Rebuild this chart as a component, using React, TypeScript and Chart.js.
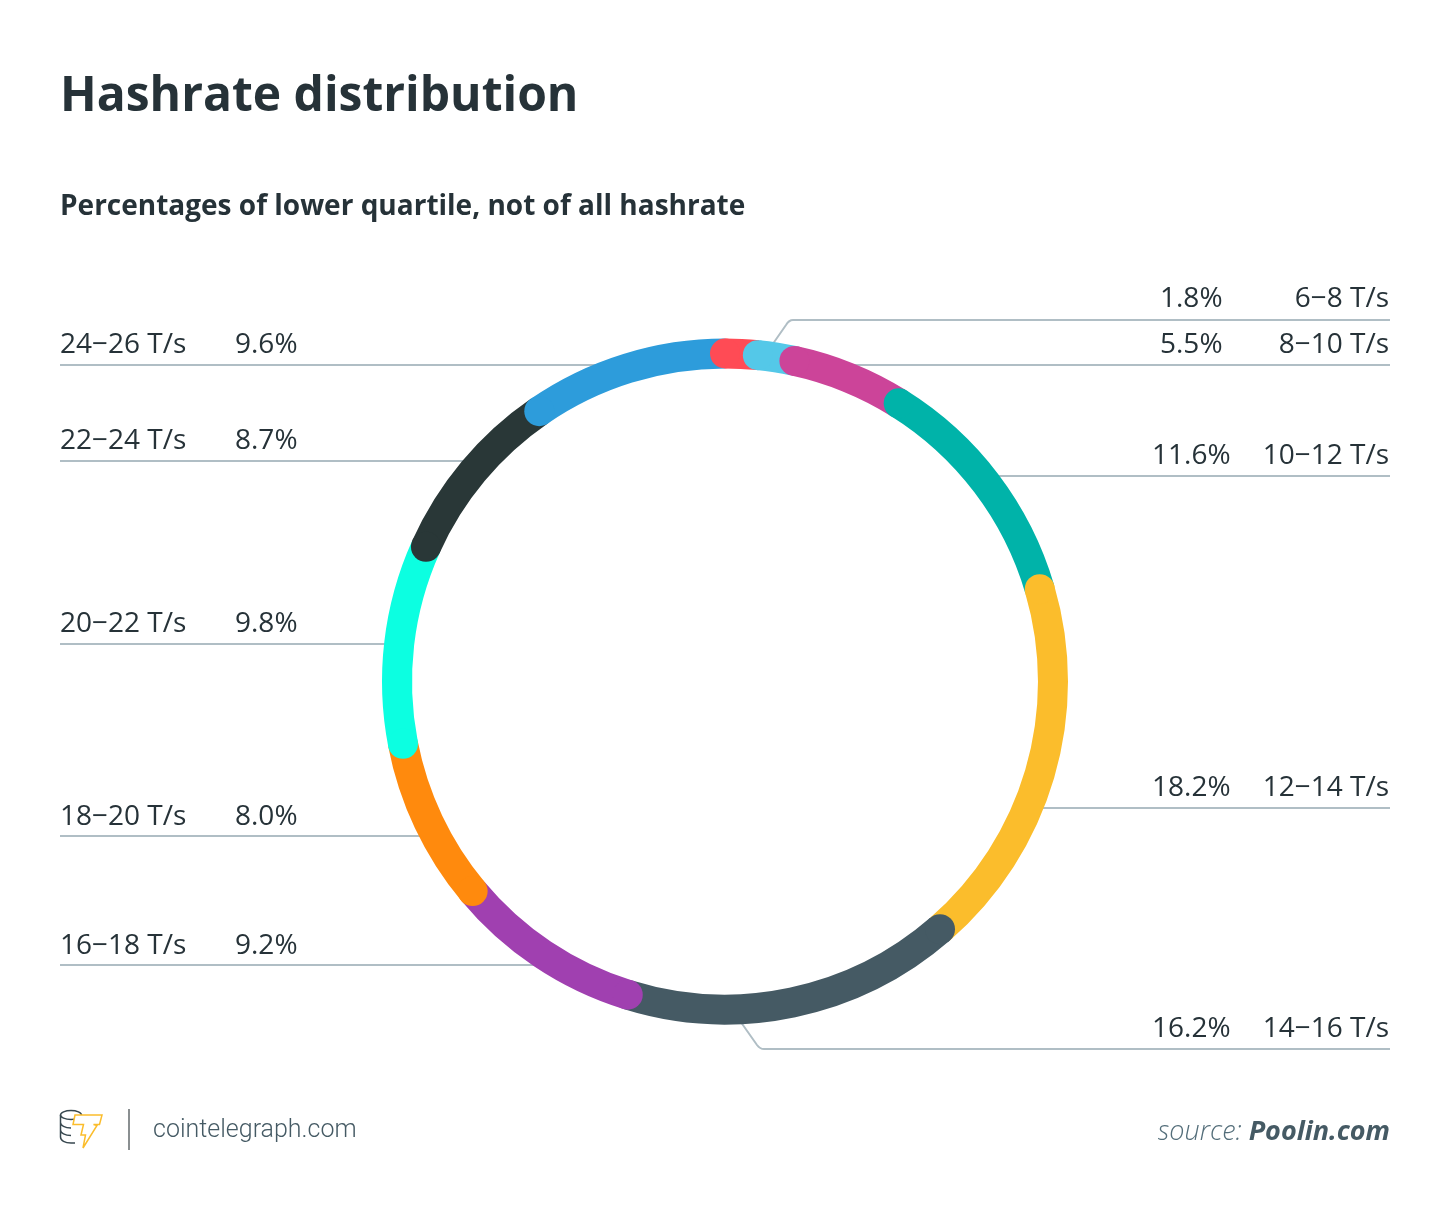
import { useEffect, useRef } from 'react';
import { Chart, registerables } from 'chart.js';

Chart.register(...registerables);

// clockwise from 12 o'clock, the first slice has no label in the source
const ranges = ['', '6−8 T/s', '8−10 T/s', '10−12 T/s', '12−14 T/s', '14−16 T/s', '16−18 T/s', '18−20 T/s', '20−22 T/s', '22−24 T/s', '24−26 T/s'];
const shares = [1.6, 1.8, 5.5, 11.6, 18.2, 16.2, 9.2, 8.0, 9.8, 8.7, 9.6];
const palette = ['#ff4b55', '#54c8e8', '#cc4499', '#00b3a9', '#fbbd2c', '#455a64', '#a040b0', '#ff8a0d', '#0cffe1', '#293737', '#2d9cdb'];

// label rows: index into ranges, text top, y of the rule under the text, where the rule stops
const leftRows = [
  { i: 10, top: 323, y: 365, end: 620 },
  { i: 9, top: 419, y: 461, end: 470 },
  { i: 8, top: 602, y: 644, end: 392 },
  { i: 7, top: 795, y: 836, end: 420 },
  { i: 6, top: 924, y: 965, end: 535 },
];
const rightRows = [
  { i: 1, top: 277, y: 320, end: 793 },
  { i: 2, top: 323, y: 365, end: 850 },
  { i: 3, top: 434, y: 476, end: 990 },
  { i: 4, top: 766, y: 808, end: 1040 },
  { i: 5, top: 1007, y: 1049, end: 764 },
];

const textColor = '#263238';
const ruleColor = '#b0bec5';

const leaderLines = {
  id: 'leaderLines',
  beforeDatasetsDraw(chart: Chart) {
    const { ctx } = chart;
    ctx.save();
    ctx.strokeStyle = ruleColor;
    ctx.lineWidth = 2;
    ctx.lineJoin = 'round';
    leftRows.forEach((r) => {
      ctx.beginPath();
      ctx.moveTo(60, r.y);
      ctx.lineTo(r.end, r.y);
      ctx.stroke();
    });
    rightRows.forEach((r) => {
      ctx.beginPath();
      ctx.moveTo(1390, r.y);
      ctx.lineTo(r.end, r.y);
      if (r.i === 1) ctx.quadraticCurveTo(789, 320, 786, 325), ctx.lineTo(770, 348);
      if (r.i === 5) ctx.quadraticCurveTo(760, 1049, 757, 1045), ctx.lineTo(738, 1018);
      ctx.stroke();
    });
    ctx.restore();
  },
};

// every slice starts with a round cap that lies over the end of the one before
const roundStarts = {
  id: 'roundStarts',
  afterDatasetsDraw(chart: Chart) {
    const { ctx } = chart;
    ctx.save();
    chart.getDatasetMeta(0).data.forEach((el: any, i: number) => {
      const { x, y, startAngle, innerRadius, outerRadius } = el.getProps(['x', 'y', 'startAngle', 'innerRadius', 'outerRadius'], true);
      const mid = (innerRadius + outerRadius) / 2;
      ctx.fillStyle = palette[i];
      ctx.beginPath();
      ctx.arc(x + mid * Math.cos(startAngle), y + mid * Math.sin(startAngle), (outerRadius - innerRadius) / 2, 0, Math.PI * 2);
      ctx.fill();
    });
    ctx.restore();
  },
};

function Label({ top, left, children, right }: { top: number; left?: number; right?: number; children: React.ReactNode }) {
  return (
    <div
      style={{
        position: 'absolute',
        top,
        left,
        right: right !== undefined ? 1450 - right : undefined,
        fontSize: 28,
        lineHeight: '38px',
        color: textColor,
        whiteSpace: 'nowrap',
      }}
    >
      {children}
    </div>
  );
}

export default function App() {
  const canvasRef = useRef<HTMLCanvasElement>(null);

  useEffect(() => {
    if (!canvasRef.current) return;
    const chart = new Chart(canvasRef.current, {
      type: 'doughnut',
      data: {
        labels: ranges,
        datasets: [{ data: shares, backgroundColor: palette, borderWidth: 0 }],
      },
      options: {
        responsive: false,
        animation: false,
        radius: 343,
        cutout: '91.25%',
        layout: { padding: { top: 153 } },
        plugins: { legend: { display: false }, tooltip: { enabled: false } },
      },
      plugins: [leaderLines, roundStarts],
    });
    return () => chart.destroy();
  }, []);

  return (
    <div style={{ position: 'absolute', left: 0, top: 0, width: 1450, height: 1210, background: '#fff', fontFamily: '"Open Sans", sans-serif', overflow: 'hidden' }}>
      <canvas ref={canvasRef} width={1450} height={1210} style={{ position: 'absolute', left: 0, top: 0, width: 1450, height: 1210 }} />

      <div style={{ position: 'absolute', left: 60, top: 60, fontSize: 48, lineHeight: '66px', fontWeight: 700, color: textColor, whiteSpace: 'nowrap' }}>
        Hashrate distribution
      </div>
      <div style={{ position: 'absolute', left: 60, top: 185, fontSize: 28, lineHeight: '38px', fontWeight: 700, color: textColor, whiteSpace: 'nowrap' }}>
        Percentages of lower quartile, not of all hashrate
      </div>

      {leftRows.map((r) => (
        <div key={r.i}>
          <Label top={r.top} left={60}>{ranges[r.i]}</Label>
          <Label top={r.top} left={235}>{shares[r.i].toFixed(1)}%</Label>
        </div>
      ))}
      {rightRows.map((r) => (
        <div key={r.i}>
          <Label top={r.top} right={1389}>{ranges[r.i]}</Label>
          <Label top={r.top} left={shares[r.i] >= 10 ? 1152 : 1160}>{shares[r.i].toFixed(1)}%</Label>
        </div>
      ))}

      <svg width="55" height="50" viewBox="0 0 55 50" style={{ position: 'absolute', left: 55, top: 1103 }} fill="none">
        <g stroke="#37474f" strokeWidth="1.5">
          <ellipse cx="16" cy="12" rx="10.5" ry="4.5" />
          <path d="M5.5 12v22c0 3.5 4.5 6 10.5 6h4M5.5 19.5c0 3 4.5 5.5 10.5 5.5M5.5 27c0 3 4.5 5.5 10.5 5.5" />
        </g>
        <path d="M20 12H47L44.5 21.5H38.5L42 22.5 28 45 30.5 32H26L28.5 21.5H18Z" fill="#fff" stroke="#fbbd2c" strokeWidth="1.5" strokeLinejoin="miter" />
      </svg>
      <div style={{ position: 'absolute', left: 128, top: 1109, width: 2, height: 41, background: '#8a8f91' }} />
      <div style={{ position: 'absolute', left: 153, top: 1112, fontFamily: 'Roboto, sans-serif', fontWeight: 300, fontSize: 25, lineHeight: '34px', color: '#455a64', whiteSpace: 'nowrap' }}>
        cointelegraph.com
      </div>
      <div style={{ position: 'absolute', right: 60, top: 1111, fontSize: 27, lineHeight: '37px', fontStyle: 'italic', color: '#546e7a', whiteSpace: 'nowrap' }}>
        <span style={{ fontWeight: 300 }}>source: </span>
        <span style={{ fontWeight: 700, color: '#455a64' }}>Poolin.com</span>
      </div>
    </div>
  );
}
